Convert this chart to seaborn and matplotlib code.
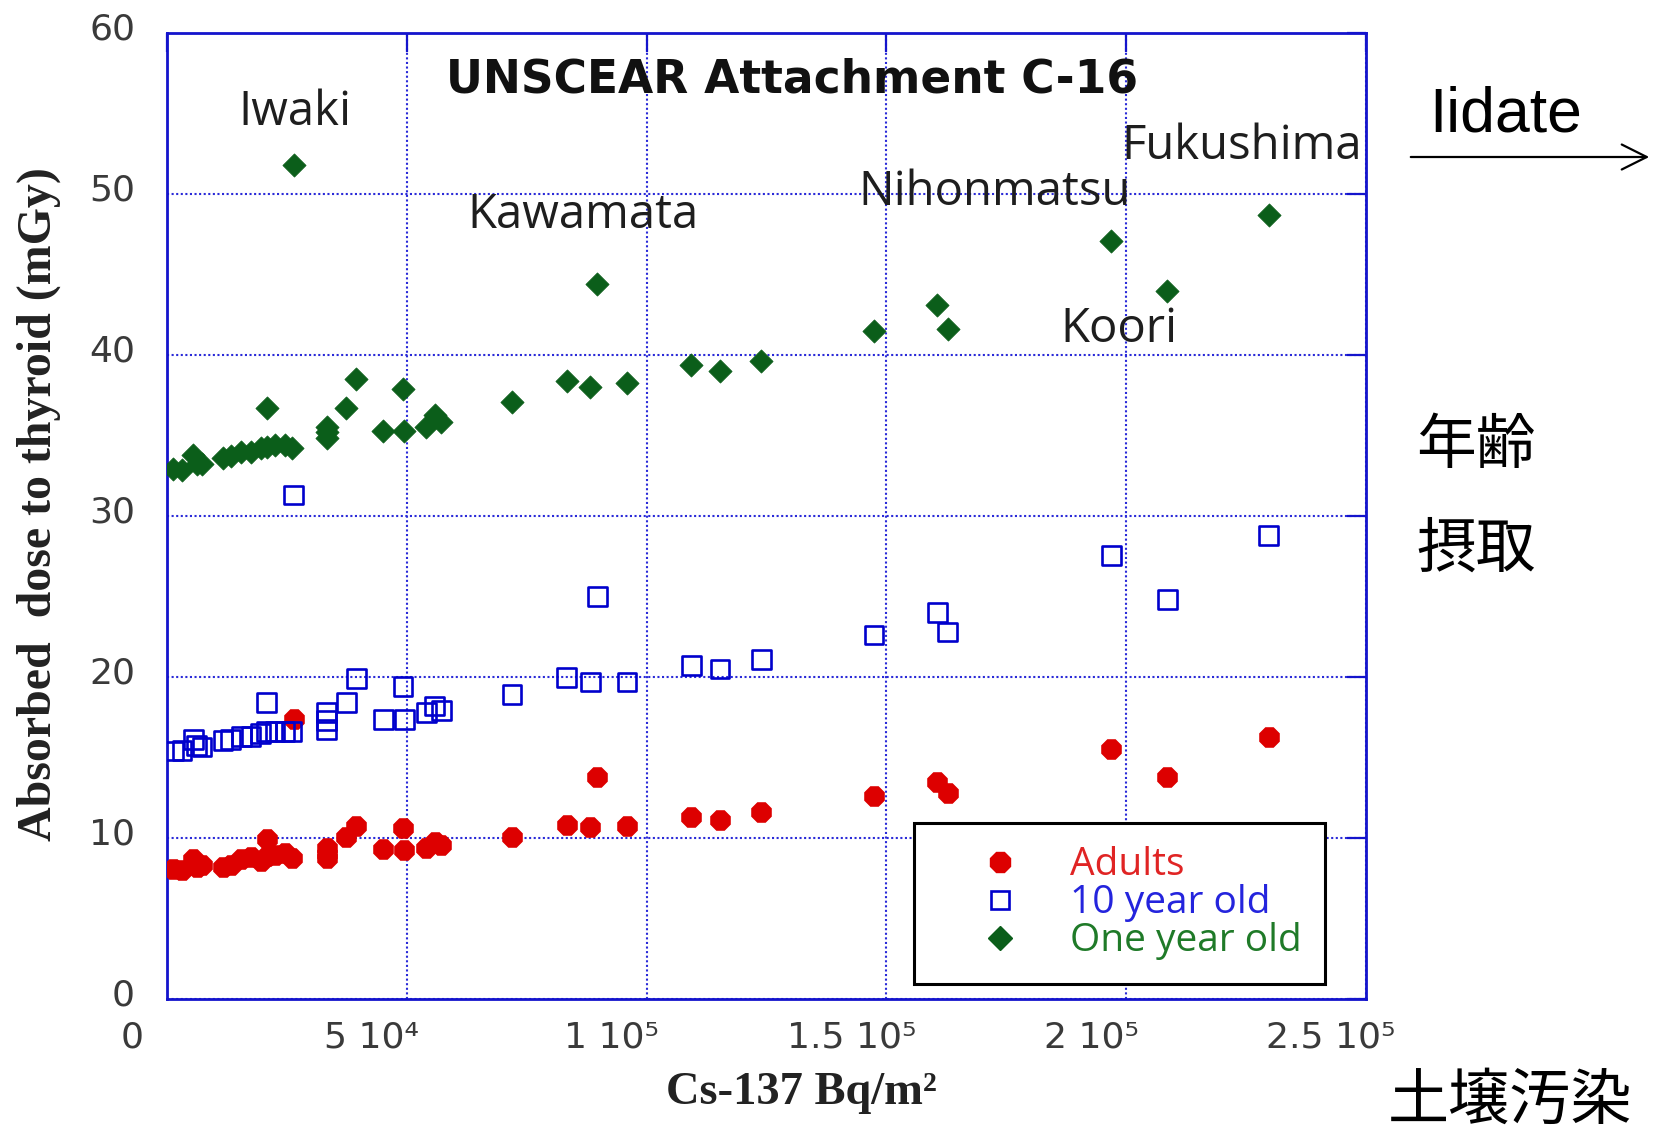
import numpy as np
import pandas as pd
import matplotlib
matplotlib.use("Agg")
import matplotlib.pyplot as plt
import seaborn as sns
from matplotlib.lines import Line2D
from matplotlib.patches import FancyArrowPatch
from matplotlib.transforms import ScaledTranslation

# Cs-137 soil deposition per municipality (Bq/m2)
cs137 = [1300, 3100, 5500, 6200, 7300, 11700, 13300, 15500, 17500, 19500,
         20800, 20800, 22500, 24600, 26000, 26400, 33300, 33300, 33300, 37400,
         39500, 45100, 49200, 49500, 54100, 55800, 57200, 71900, 83300, 88300,
         89700, 95950, 109300, 115300, 123900, 147400, 160600, 162750, 196900,
         208600, 229700]

# Absorbed dose to thyroid (mGy) by age group
adults = [8.1, 8.0, 8.7, 8.2, 8.3, 8.2, 8.3, 8.7, 8.8, 8.6,
          8.9, 9.95, 8.95, 9.05, 8.75, 17.4, 9.35, 9.0, 8.75, 10.05,
          10.75, 9.3, 10.65, 9.25, 9.35, 9.75, 9.55, 10.05, 10.8, 10.7,
          13.8, 10.72, 11.3, 11.1, 11.6, 12.6, 13.45, 12.8, 15.5,
          13.8, 16.3]
ten_year = [15.4, 15.45, 16.1, 15.75, 15.65, 16.05, 16.1, 16.3, 16.3, 16.5,
            16.6, 18.4, 16.6, 16.6, 16.6, 31.3, 17.8, 17.3, 16.75, 18.4,
            19.9, 17.35, 19.4, 17.35, 17.8, 18.2, 17.9, 18.9, 19.95, 19.7,
            25.0, 19.7, 20.7, 20.5, 21.1, 22.6, 24.0, 22.8, 27.55,
            24.8, 28.8]
one_year = [32.95, 32.85, 33.8, 33.2, 33.2, 33.6, 33.7, 34.0, 34.0, 34.2,
            34.3, 36.7, 34.4, 34.4, 34.2, 51.8, 35.55, 35.2, 34.85, 36.7,
            38.5, 35.25, 37.9, 35.25, 35.55, 36.25, 35.85, 37.1, 38.4, 38.0,
            44.4, 38.25, 39.4, 39.0, 39.6, 41.5, 43.1, 41.6, 47.05,
            43.95, 48.7]

series_names = ["Adults", "10 year old", "One year old"]

x_ticks = [0, 50000, 100000, 150000, 200000, 250000]
x_tick_labels = ["0", "5 10\u2074", "1 10\u2075", "1.5 10\u2075", "2 10\u2075", "2.5 10\u2075"]
y_ticks = [0, 10, 20, 30, 40, 50, 60]

# Municipality labels: name, x centre, baseline y (data units)
town_names = ["Iwaki", "Kawamata", "Nihonmatsu", "Fukushima", "Koori"]
town_x = [26670, 86770, 172500, 224000, 198400]
town_y = [54.3, 47.9, 49.3, 52.2, 40.8]

RED = "#dd0000"
BLUE = "#0000cc"
GREEN = "#0b5e1a"
AXIS_BLUE = "#1414cc"

df = pd.DataFrame({"cs137": cs137, "Adults": adults,
                   "10 year old": ten_year, "One year old": one_year})

sns.set_theme(style="white")
plt.rcParams["font.family"] = ["DejaVu Sans"]

W, H = 1663, 1130
fig = plt.figure(figsize=(W / 100, H / 100), dpi=100)
ax = fig.add_axes([167 / W, 131 / H, 1199 / W, 966 / H])

sns.scatterplot(data=df, x="cs137", y="Adults", marker="8", s=235,
                color=RED, edgecolor=RED, linewidth=0.5, ax=ax,
                zorder=3, legend=False)
sns.scatterplot(data=df, x="cs137", y="10 year old", marker="s", s=180,
                color=BLUE, facecolors="none", edgecolor=BLUE, linewidth=1.9,
                ax=ax, zorder=4, legend=False)
sns.scatterplot(data=df, x="cs137", y="One year old", marker="D", s=140,
                color=GREEN, edgecolor=GREEN, linewidth=0.5, ax=ax,
                zorder=5, legend=False)

ax.set_xlim(0, 250000)
ax.set_ylim(0, 60)
ax.set_xticks(x_ticks)
ax.set_xticklabels(x_tick_labels)
ax.set_yticks(y_ticks)

ax.grid(True, color="#2a2ad8", linestyle=(0, (1, 1.2)), linewidth=1.5)
ax.set_axisbelow(True)
for sp in ax.spines.values():
    sp.set_color(AXIS_BLUE)
    sp.set_linewidth(2.0)
    sp.set_visible(True)

ax.tick_params(axis="both", which="major", direction="in", length=14,
               width=1.6, color=AXIS_BLUE, top=True, right=True,
               labelsize=26, labelcolor="#3a3a3a")
ax.tick_params(axis="y", pad=23)
ax.tick_params(axis="x", pad=35)

shift_x = ScaledTranslation(-35 / 100, 0, fig.dpi_scale_trans)
for lab in ax.get_xticklabels():
    lab.set_va("baseline")
    lab.set_transform(lab.get_transform() + shift_x)
shift_y = ScaledTranslation(0, 7 / 100, fig.dpi_scale_trans)
for lab in ax.get_yticklabels():
    lab.set_transform(lab.get_transform() + shift_y)

ax.set_ylabel("Absorbed  dose to thyroid (mGy)", family="Liberation Serif",
              weight="bold", size=34.5, color="#222222", va="center")
ax.yaxis.set_label_coords((39 - 167) / 1199, (999 - 504) / 966)
ax.set_xlabel("Cs-137 Bq/m\u00b2", family="Liberation Serif", weight="bold",
              size=33.5, color="#222222", va="center")
ax.xaxis.set_label_coords((801 - 167) / 1199, -(1093 - 999) / 966)

ax.text(130400, 56.3, "UNSCEAR Attachment C-16", ha="center", va="baseline",
        family="DejaVu Sans", weight="bold", size=32.8, color="#111111", zorder=6)
for name, tx, ty in zip(town_names, town_x, town_y):
    ax.text(tx, ty, name, ha="center", va="baseline", family="Open Sans",
            size=34, color="#1e1e1e", zorder=6)

handles = [
    Line2D([], [], linestyle="none", marker="8", markersize=15.2,
           markerfacecolor=RED, markeredgecolor=RED),
    Line2D([], [], linestyle="none", marker="s", markersize=13.4,
           markerfacecolor="none", markeredgecolor=BLUE, markeredgewidth=1.9),
    Line2D([], [], linestyle="none", marker="D", markersize=11.8,
           markerfacecolor=GREEN, markeredgecolor=GREEN),
]
leg = ax.legend(handles, series_names, loc="upper left",
                bbox_to_anchor=((914 - 167) / 1199, (999 - 823) / 966),
                borderaxespad=0, frameon=True, fancybox=False,
                edgecolor="black", framealpha=1,
                prop={"family": "Open Sans", "size": 28},
                labelcolor=["#e02424", "#2424dd", "#1f7a28"],
                handlelength=3.22, handletextpad=0.2, borderpad=0.6,
                labelspacing=0.0)
leg.get_frame().set_linewidth(2.2)
leg.set_zorder(10)

# Annotations outside the plotting area
fig.text(1506 / W, 1 - 132 / H, "Iidate", ha="center", va="baseline",
         family="Liberation Sans", size=45, color="black")
fig.add_artist(FancyArrowPatch((1408 / W, 1 - 157 / H), (1652 / W, 1 - 157 / H),
                               transform=fig.transFigure,
                               arrowstyle="->,head_length=0.9,head_width=0.45",
                               mutation_scale=20, lw=1.6, color="black"))
cjk = ["Noto Sans CJK JP", "DejaVu Sans"]
fig.text(1476 / W, 1 - 447 / H, "年齢", ha="center", va="center",
         family=cjk, size=43, color="black")
fig.text(1476 / W, 1 - 550 / H, "摂取", ha="center", va="center",
         family=cjk, size=43, color="black")
fig.text(1510 / W, 1 - 1101 / H, "土壌汚染", ha="center", va="center",
         family=cjk, size=44, color="black")

fig.savefig("out.png", dpi=100, facecolor="white")
